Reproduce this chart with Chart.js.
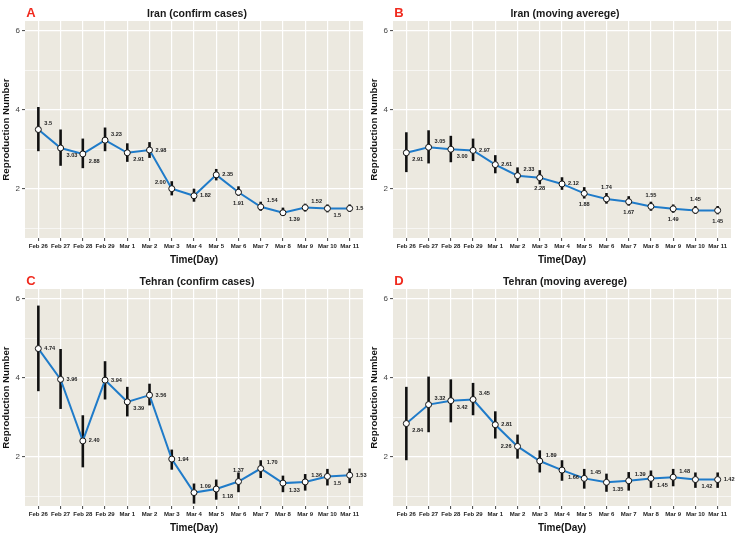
<!DOCTYPE html>
<html>
<head>
<meta charset="utf-8">
<script src="https://cdn.jsdelivr.net/npm/chart.js@4.4.1/dist/chart.umd.min.js"></script>
<style>
html, body { margin: 0; padding: 0; background: #fff; }
#grid { position: relative; width: 736px; height: 536px; }
.panel { position: absolute; width: 368px; height: 268px; }
</style>
</head>
<body>
<div id="grid">
  <div class="panel" style="left:0;top:0"><canvas id="chartA"></canvas></div>
  <div class="panel" style="left:368px;top:0"><canvas id="chartB"></canvas></div>
  <div class="panel" style="left:0;top:268px"><canvas id="chartC"></canvas></div>
  <div class="panel" style="left:368px;top:268px"><canvas id="chartD"></canvas></div>
</div>
<script>
const days = ['Feb 26', 'Feb 27', 'Feb 28', 'Feb 29', 'Mar 1', 'Mar 2', 'Mar 3', 'Mar 4',
              'Mar 5', 'Mar 6', 'Mar 7', 'Mar 8', 'Mar 9', 'Mar 10', 'Mar 11'];
const yTicks = [1, 2, 3, 4, 5, 6];

// A: Iran (confirm cases)
const iranCasesR  = [3.5, 3.03, 2.88, 3.23, 2.91, 2.98, 2.00, 1.82, 2.35, 1.91, 1.54, 1.39, 1.52, 1.5, 1.5];
const iranCasesLo = [2.95, 2.58, 2.52, 2.95, 2.68, 2.78, 1.83, 1.67, 2.21, 1.82, 1.44, 1.31, 1.42, 1.4, 1.41];
const iranCasesHi = [4.07, 3.5, 3.27, 3.55, 3.15, 3.18, 2.19, 2.0, 2.5, 2.06, 1.67, 1.52, 1.62, 1.6, 1.6];
const iranCasesTxt = ['3.5', '3.03', '2.88', '3.23', '2.91', '2.98', '2.00', '1.82', '2.35', '1.91', '1.54', '1.39', '1.52', '1.5', '1.5'];
const iranCasesPos = ['ru', 'rd', 'rd', 'ru', 'rd', 'r', 'lu', 'r', 'r', 'd', 'ru', 'rd', 'ru', 'rd', 'r'];

// B: Iran (moving averege)
const iranAvgR  = [2.91, 3.05, 3.00, 2.97, 2.61, 2.33, 2.28, 2.12, 1.88, 1.74, 1.67, 1.55, 1.49, 1.45, 1.45];
const iranAvgLo = [2.42, 2.64, 2.67, 2.7, 2.39, 2.14, 2.11, 1.97, 1.75, 1.62, 1.57, 1.44, 1.39, 1.36, 1.35];
const iranAvgHi = [3.43, 3.48, 3.34, 3.27, 2.85, 2.54, 2.47, 2.29, 2.04, 1.89, 1.81, 1.67, 1.6, 1.56, 1.56];
const iranAvgTxt = ['2.91', '3.05', '3.00', '2.97', '2.61', '2.33', '2.28', '2.12', '1.88', '1.74', '1.67', '1.55', '1.49', '1.45', '1.45'];
const iranAvgPos = ['rd', 'ru', 'rd', 'r', 'r', 'ru', 'd', 'r', 'd', 'u', 'd', 'u', 'd', 'u', 'd'];

// C: Tehran (confirm cases)
const tehranCasesR  = [4.74, 3.96, 2.40, 3.94, 3.39, 3.56, 1.94, 1.09, 1.18, 1.37, 1.70, 1.33, 1.36, 1.5, 1.53];
const tehranCasesLo = [3.66, 3.21, 1.73, 3.45, 3.02, 3.3, 1.67, 0.81, 0.91, 1.1, 1.46, 1.1, 1.14, 1.27, 1.33];
const tehranCasesHi = [5.83, 4.73, 3.05, 4.42, 3.77, 3.85, 2.18, 1.32, 1.42, 1.6, 1.91, 1.52, 1.56, 1.69, 1.7];
const tehranCasesTxt = ['4.74', '3.96', '2.40', '3.94', '3.39', '3.56', '1.94', '1.09', '1.18', '1.37', '1.70', '1.33', '1.36', '1.5', '1.53'];
const tehranCasesPos = ['r', 'r', 'r', 'r', 'rd', 'r', 'r', 'ru', 'rd', 'u', 'ru', 'rd', 'ru', 'rd', 'r'];

// D: Tehran (moving averege)
const tehranAvgR  = [2.84, 3.32, 3.42, 3.45, 2.81, 2.26, 1.89, 1.66, 1.45, 1.35, 1.39, 1.45, 1.48, 1.42, 1.42];
const tehranAvgLo = [1.91, 2.62, 2.87, 3.05, 2.46, 1.95, 1.6, 1.39, 1.19, 1.11, 1.14, 1.21, 1.25, 1.21, 1.21];
const tehranAvgHi = [3.77, 4.03, 3.96, 3.87, 3.15, 2.56, 2.16, 1.91, 1.69, 1.57, 1.61, 1.65, 1.69, 1.6, 1.6];
const tehranAvgTxt = ['2.84', '3.32', '3.42', '3.45', '2.81', '2.26', '1.89', '1.66', '1.45', '1.35', '1.39', '1.45', '1.48', '1.42', '1.42'];
const tehranAvgPos = ['rd', 'ru', 'rd', 'ru', 'r', 'l', 'ru', 'rd', 'ru', 'rd', 'ru', 'rd', 'ru', 'rd', 'r'];

const FONT = '"Liberation Sans", Arial, sans-serif';
const LABEL_OFFSETS = {
    r:  [6, 0, 'left'],
    ru: [6, -6, 'left'],
    rd: [6, 7, 'left'],
    u:  [0, -11, 'center'],
    d:  [0, 11, 'center'],
    l:  [-6, 0, 'right'],
    lu: [-6, -6, 'right']
};

// panel background, error bars, value labels, panel letter and title
const panelPlugin = {
    id: 'panel',
    beforeDraw(chart) {
        const {ctx, chartArea: a} = chart;
        ctx.save();
        ctx.fillStyle = '#ECE9E0';
        ctx.fillRect(a.left, a.top, a.right - a.left, a.bottom - a.top);
        ctx.restore();
    },
    beforeDatasetsDraw(chart) {
        const {ctx, scales} = chart;
        const o = chart.options.plugins.panel;
        ctx.save();
        ctx.strokeStyle = '#111';
        ctx.lineWidth = 2.6;
        for (let i = 0; i < o.lo.length; i++) {
            const x = scales.x.getPixelForValue(i);
            ctx.beginPath();
            ctx.moveTo(x, scales.y.getPixelForValue(o.lo[i]));
            ctx.lineTo(x, scales.y.getPixelForValue(o.hi[i]));
            ctx.stroke();
        }
        ctx.restore();
    },
    afterDatasetsDraw(chart) {
        const {ctx, scales} = chart;
        const o = chart.options.plugins.panel;
        const data = chart.data.datasets[0].data;
        ctx.save();
        ctx.font = 'bold 5.6px ' + FONT;
        ctx.fillStyle = '#222';
        ctx.textBaseline = 'middle';
        for (let i = 0; i < data.length; i++) {
            const off = LABEL_OFFSETS[o.pos[i]];
            ctx.textAlign = off[2];
            ctx.fillText(o.txt[i], scales.x.getPixelForValue(data[i].x) + off[0],
                         scales.y.getPixelForValue(data[i].y) + off[1]);
        }
        ctx.restore();
    },
    afterDraw(chart) {
        const {ctx} = chart;
        const o = chart.options.plugins.panel;
        ctx.save();
        ctx.textBaseline = 'middle';
        ctx.textAlign = 'center';
        ctx.fillStyle = '#F02A1E';
        ctx.font = 'bold 13px ' + FONT;
        ctx.fillText(o.letter, 31, 13);
        ctx.fillStyle = '#1a1a1a';
        ctx.font = 'bold 10.5px ' + FONT;
        ctx.fillText(o.title, 197, 14);
        ctx.restore();
    }
};

function make_chart(id, letter, title, r, lo, hi, txt, pos) {
    const points = r.map((v, i) => ({x: i, y: v}));
    const ctx = document.getElementById(id).getContext('2d');
    return new Chart(ctx, {
        type: 'line',
        data: {
            datasets: [{
                data: points,
                borderColor: '#1F7BC9',
                borderWidth: 2,
                pointRadius: 3,
                pointBackgroundColor: '#fff',
                pointBorderColor: '#111',
                pointBorderWidth: 1,
                tension: 0
            }]
        },
        options: {
            responsive: true,
            maintainAspectRatio: false,
            animation: false,
            events: [],
            layout: {padding: {top: 21, right: 5, left: 0, bottom: 0}},
            plugins: {
                legend: {display: false},
                tooltip: {enabled: false},
                panel: {letter: letter, title: title, lo: lo, hi: hi, txt: txt, pos: pos}
            },
            scales: {
                x: {
                    type: 'linear',
                    min: -0.6,
                    max: 14.6,
                    afterBuildTicks: (s) => { s.ticks = days.map((d, i) => ({value: i})); },
                    afterFit: (s) => { s.height = 30; },
                    border: {display: false},
                    grid: {color: '#fff', lineWidth: 1.2, tickLength: 3, tickColor: '#444', tickWidth: 1},
                    ticks: {
                        autoSkip: false, maxRotation: 0, padding: 2,
                        color: '#222', font: {family: FONT, size: 6, weight: 'bold'},
                        callback: (v) => days[v]
                    },
                    title: {
                        display: true, text: 'Time(Day)', color: '#111',
                        font: {family: FONT, size: 10, weight: 'bold'},
                        padding: {top: 0, bottom: 1.5}
                    }
                },
                y: {
                    min: 0.75,
                    max: 6.25,
                    afterBuildTicks: (s) => { s.ticks = yTicks.map(v => ({value: v})); },
                    afterFit: (s) => { s.width = 25; },
                    border: {display: false},
                    grid: {
                        color: '#fff',
                        lineWidth: (c) => c.tick && c.tick.value % 2 === 0 ? 1.2 : 0.6,
                        tickLength: 3,
                        tickColor: (c) => c.tick && c.tick.value % 2 === 0 ? '#444' : 'rgba(0,0,0,0)',
                        tickWidth: 1
                    },
                    ticks: {
                        padding: 2, color: '#444',
                        font: {family: FONT, size: 8},
                        callback: (v) => v % 2 === 0 ? String(v) : ''
                    },
                    title: {
                        display: true, text: 'Reproduction Number', color: '#111',
                        font: {family: FONT, size: 9.7, weight: 'bold'},
                        padding: {top: 1, bottom: 0}
                    }
                }
            }
        },
        plugins: [panelPlugin]
    });
}

make_chart('chartA', 'A', 'Iran (confirm cases)', iranCasesR, iranCasesLo, iranCasesHi, iranCasesTxt, iranCasesPos);
make_chart('chartB', 'B', 'Iran (moving averege)', iranAvgR, iranAvgLo, iranAvgHi, iranAvgTxt, iranAvgPos);
make_chart('chartC', 'C', 'Tehran (confirm cases)', tehranCasesR, tehranCasesLo, tehranCasesHi, tehranCasesTxt, tehranCasesPos);
make_chart('chartD', 'D', 'Tehran (moving averege)', tehranAvgR, tehranAvgLo, tehranAvgHi, tehranAvgTxt, tehranAvgPos);
</script>
</body>
</html>
